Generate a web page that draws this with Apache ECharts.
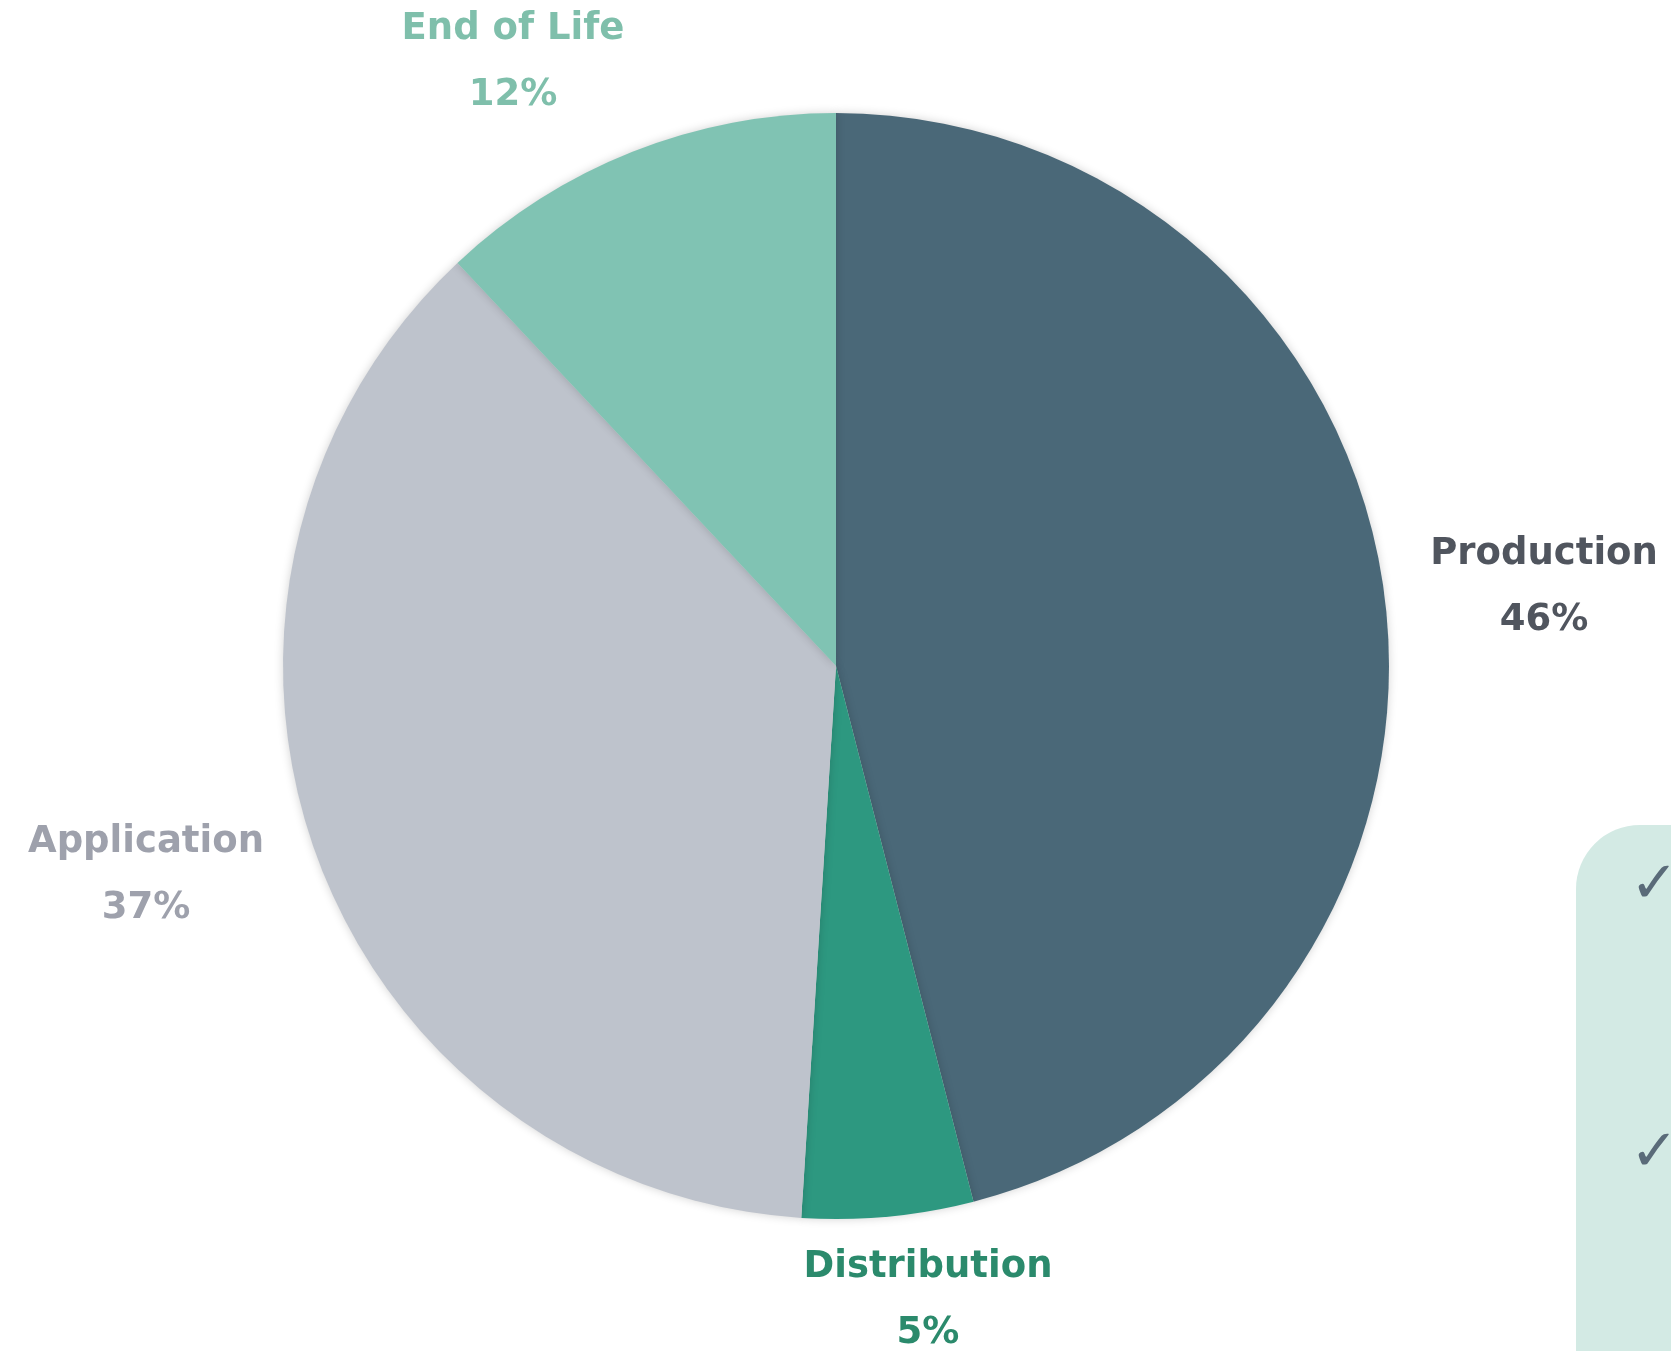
<!DOCTYPE html>
<html><head><meta charset="utf-8">
<script src="https://cdn.jsdelivr.net/npm/echarts@6/dist/echarts.min.js"></script>
<style>html,body{margin:0;padding:0;background:#fff}#c{width:1671px;height:1351px}</style>
</head><body><div id="c"></div>
<script>
const categories = ['Production', 'Distribution', 'Application', 'End of Life'];
const values = [46, 5, 37, 12];
const sliceColors = ['#4a6878', '#2d9880', '#bec3cc', '#80c3b3'];
const labelColors = ['#50555e', '#2b8a6c', '#9ea1ac', '#7fbfab'];
const labelSpots = [[1544, 587], [928, 1300], [146, 875], [513, 62]];

const chart = echarts.init(document.getElementById('c'));
chart.setOption({
  backgroundColor: '#ffffff',
  graphic: [
    { type: 'rect', shape: { x: 1576, y: 825, width: 200, height: 600, r: [64, 0, 0, 0] }, style: { fill: '#d3eae4' }, z: 0 },
    { type: 'text', style: { x: 1630, y: 858, text: '✓', font: '58px DejaVu Sans', fill: '#5a6b79' }, z: 1 },
    { type: 'text', style: { x: 1630, y: 1126, text: '✓', font: '58px DejaVu Sans', fill: '#5a6b79' }, z: 1 }
  ],
  series: [{
    type: 'pie',
    center: [836, 666],
    radius: [0, 553],
    startAngle: 90,
    clockwise: true,
    silent: true,
    avoidLabelOverlap: false,
    data: categories.map((n, i) => ({
      name: n, value: values[i],
      itemStyle: { color: sliceColors[i] },
      label: { color: labelColors[i] }
    })),
    itemStyle: { shadowBlur: 10, shadowColor: 'rgba(0,0,0,0.18)', borderWidth: 0 },
    label: {
      show: true,
      position: 'outside',
      formatter: '{b}\n{d}%',
      fontFamily: 'DejaVu Sans',
      fontWeight: 'bold',
      fontSize: 37,
      lineHeight: 66,
      align: 'center'
    },
    labelLine: { show: false },
    labelLayout: function (p) {
      const s = labelSpots[p.dataIndex];
      return { x: s[0], y: s[1], align: 'center', verticalAlign: 'middle' };
    }
  }]
});
</script></body></html>
